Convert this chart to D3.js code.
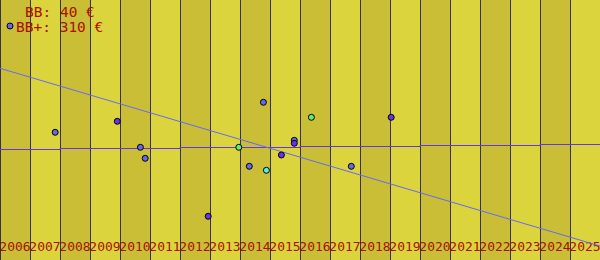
<!DOCTYPE html>
<html>
<head>
<meta charset="utf-8">
<script src="https://cdn.jsdelivr.net/npm/d3@7"></script>
<style>
  body { margin: 0; background: #fff; }
  svg { display: block; }
  text { font-family: "DejaVu Sans Mono", monospace; fill: #aa1100; }
</style>
</head>
<body>
<svg></svg>
<script>
let width = 600;
let height = 260;

// year bands + tick labels
var years = d3.range(2006, 2026);

// scattered price points (decimal year, value, colour group)
var pointYears = [2007.84, 2009.91, 2010.68, 2010.84, 2012.94, 2013.96, 2014.31, 2014.78,
                  2014.88, 2015.38, 2015.81, 2015.81, 2016.38, 2017.71, 2019.04];
var pointValues = [127.7, 138.7, 112.7, 101.7, 43.7, 112.7, 93.7, 157.7,
                   89.7, 105, 119.7, 116.7, 142.7, 93.7, 142.7];
var pointGroups = ["a", "b", "a", "a", "b", "g", "a", "a",
                   "c", "b", "a", "b", "g", "a", "b"];

// step line (average)
var stepYears = [2006, 2008, 2012, 2016, 2020, 2024, 2026];
var stepValues = [110.5, 111.5, 112.5, 113.5, 114.5, 115.5, 115.5];

// trend line
var trendYears = [2006, 2026];
var trendValues = [191.7, 14];

var legendLines = ["BB: 40 €", "BB+: 310 €"];

var groupColor = { a: "#6666ee", b: "#6633ee", g: "#66ee66", c: "#55eeee" };

var svg = d3.select("svg").attr("width", width).attr("height", height);

var x = d3.scaleLinear().domain([2006, 2026]).range([0, width]);
var y = d3.scaleLinear().domain([0, 260]).range([height, 0]);

// background bands
svg.append("g")
  .selectAll("rect")
  .data(years)
  .enter().append("rect")
  .attr("x", function(d) { return x(d); })
  .attr("y", 0)
  .attr("width", x(2007) - x(2006))
  .attr("height", height)
  .attr("fill", function(d) { return d % 2 == 0 ? "#c9be35" : "#dcd43d"; });

// year lines
svg.append("g")
  .selectAll("line")
  .data(years)
  .enter().append("line")
  .attr("x1", function(d) { return Math.round(x(d)) + 0.5; })
  .attr("x2", function(d) { return Math.round(x(d)) + 0.5; })
  .attr("y1", 0)
  .attr("y2", height)
  .attr("stroke", "#333344")
  .attr("stroke-width", 1);

// labels
svg.append("g")
  .selectAll("text")
  .data(years)
  .enter().append("text")
  .attr("x", function(d) { return x(d + 0.5); })
  .attr("y", 251)
  .attr("text-anchor", "middle")
  .style("font-size", "13px")
  .text(function(d) { return d; });

// step line
var step = stepYears.map(function(d, i) { return [d, stepValues[i]]; });
svg.append("path")
  .datum(step)
  .attr("fill", "none")
  .attr("stroke", "#6633ee")
  .attr("stroke-width", 1)
  .attr("d", d3.line()
    .x(function(d) { return x(d[0]); })
    .y(function(d) { return y(d[1]); })
    .curve(d3.curveStepAfter));

// trend
var trend = trendYears.map(function(d, i) { return [d, trendValues[i]]; });
svg.append("path")
  .datum(trend)
  .attr("fill", "none")
  .attr("stroke", "#6666ff")
  .attr("stroke-width", 1)
  .attr("d", d3.line()
    .x(function(d) { return x(d[0]); })
    .y(function(d) { return y(d[1]); }));

// points
var points = pointYears.map(function(d, i) {
  return { year: d, value: pointValues[i], group: pointGroups[i] };
});
svg.append("g")
  .selectAll("circle")
  .data(points)
  .enter().append("circle")
  .attr("cx", function(d) { return x(d.year); })
  .attr("cy", function(d) { return y(d.value); })
  .attr("r", 3)
  .attr("fill", function(d) { return groupColor[d.group]; })
  .attr("stroke", "#000")
  .attr("stroke-width", 1);

// legend
svg.append("circle")
  .attr("cx", 10)
  .attr("cy", 26)
  .attr("r", 3)
  .attr("fill", groupColor.a)
  .attr("stroke", "#000");

svg.append("g")
  .selectAll("text")
  .data(legendLines)
  .enter().append("text")
  .attr("x", function(d, i) { return i == 0 ? 25 : 16; })
  .attr("y", function(d, i) { return 17 + i * 15; })
  .style("font-size", "14.5px")
  .text(function(d) { return d; });
</script>
</body>
</html>
